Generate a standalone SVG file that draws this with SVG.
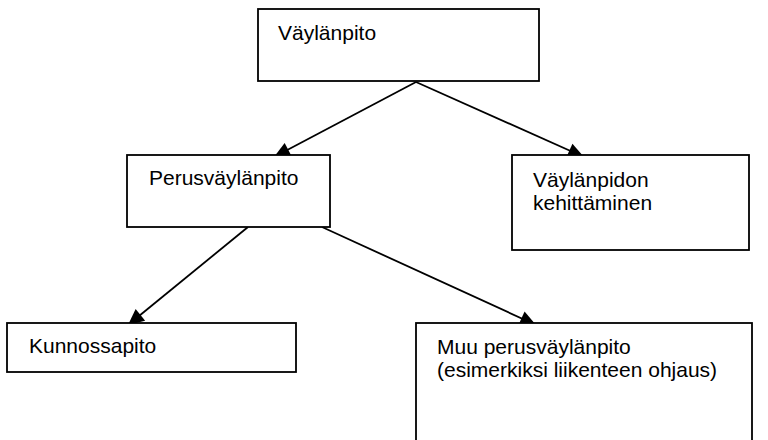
<svg xmlns="http://www.w3.org/2000/svg" width="768" height="440" viewBox="0 0 768 440">
<style>
.box{fill:#fff;stroke:#000;stroke-width:1.8}
.lbl{font-family:"Liberation Sans",Arial,sans-serif;font-size:21px;fill:#000}
.conn{stroke:#000;stroke-width:1.8;fill:none;marker-end:url(#ah)}
</style>
<defs>
<marker id="ah" markerUnits="userSpaceOnUse" markerWidth="18" markerHeight="16" refX="16" refY="7.5" orient="auto" overflow="visible">
<path d="M0,0 L16,7.5 L0,15 z" fill="#000"/>
</marker>
</defs>
<rect width="768" height="440" fill="#fff"/>
<g id="connectors">
<line class="conn" x1="416" y1="82" x2="274" y2="157"/>
<line class="conn" x1="416" y1="82" x2="584" y2="157"/>
<line class="conn" x1="248" y1="227" x2="128" y2="325"/>
<line class="conn" x1="322" y1="227" x2="536" y2="325"/>
</g>
<g id="n1">
<rect class="box" x="258" y="9" width="281" height="72"/>
<text class="lbl" x="278" y="40">Väylänpito</text>
</g>
<g id="n2">
<rect class="box" x="127" y="155" width="203" height="72"/>
<text class="lbl" x="149" y="185">Perusväylänpito</text>
</g>
<g id="n3">
<rect class="box" x="512" y="155" width="237" height="95"/>
<text class="lbl" x="533" y="187">Väylänpidon</text>
<text class="lbl" x="533" y="210">kehittäminen</text>
</g>
<g id="n4">
<rect class="box" x="7" y="323" width="289" height="49"/>
<text class="lbl" x="29" y="353">Kunnossapito</text>
</g>
<g id="n5">
<rect class="box" x="416" y="323" width="336" height="130"/>
<text class="lbl" x="437" y="354">Muu perusväylänpito</text>
<text class="lbl" x="437" y="377">(esimerkiksi liikenteen ohjaus)</text>
</g>
</svg>
